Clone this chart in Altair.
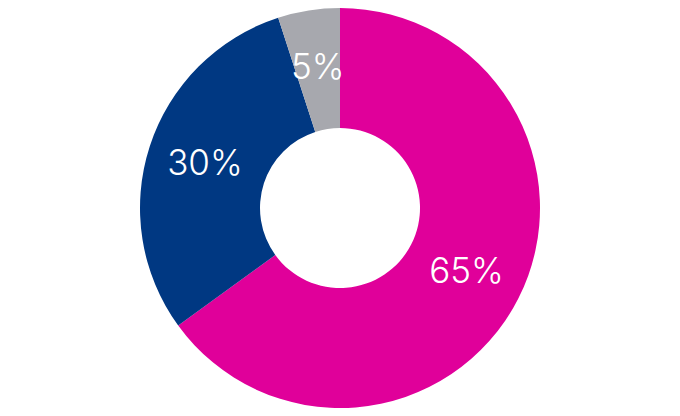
import altair as alt
import pandas as pd

categories = ["A", "B", "C"]
values = [65, 30, 5]
labels = ["65%", "30%", "5%"]
colors = ["#E0009A", "#003882", "#A7A8AE"]

df = pd.DataFrame({"cat": categories, "value": values, "label": labels, "order": [0, 1, 2]})

base = alt.Chart(df).encode(
    theta=alt.Theta("value:Q", stack=True),
    order=alt.Order("order:Q"),
)

arcs = base.mark_arc(outerRadius=200, innerRadius=80).encode(
    color=alt.Color("cat:N", scale=alt.Scale(domain=categories, range=colors), legend=None)
)

text = base.mark_text(radius=142, font="Inter", fontSize=35, fontWeight=300, color="white").encode(
    text="label:N"
)

chart = (arcs + text).properties(
    width=664, height=400, padding=0,
    autosize=alt.AutoSizeParams(type="none"),
).configure_view(stroke=None)

chart.save("out.html", embed_options={"renderer": "svg", "actions": False})
